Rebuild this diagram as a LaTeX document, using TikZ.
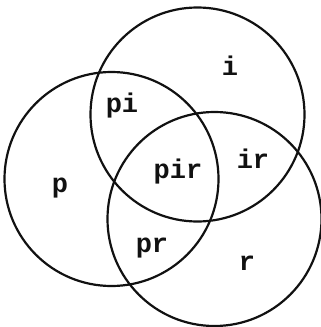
\documentclass[tikz,border=0pt]{standalone}
\usepackage{fontspec}
\usepackage{tikz}
\usetikzlibrary{positioning}
\newfontfamily\labelfont{Liberation Mono}
\definecolor{ink}{HTML}{111111}

\begin{document}
\begin{tikzpicture}[
  x=1pt, y=-1pt,
  set/.style   = {circle, draw=ink, line width=2.2pt, minimum size=214pt, inner sep=0pt},
  region/.style = {anchor=base, font=\labelfont\bfseries\fontsize{27}{27}\selectfont, text=ink, inner sep=0pt},
]
  \useasboundingbox (0,0) rectangle (321,327);

  \node[set] (iset) at (197.5,114.5) {};
  \node[set] (pset) at (111.5,179)   {};
  \node[set] (rset) at (214.5,219)   {};

  \node[region] (i)   at (230,75)  {i};
  \node[region] (pi)  at (122,112) {pi};
  \node[region] (pir) at (178,178) {pir};
  \node[region] (ir)  at (253,168) {ir};
  \node[region] (p)   at (60,192)  {p};
  \node[region] (pr)  at (152,252) {pr};
  \node[region] (r)   at (247,270) {r};
\end{tikzpicture}
\end{document}
